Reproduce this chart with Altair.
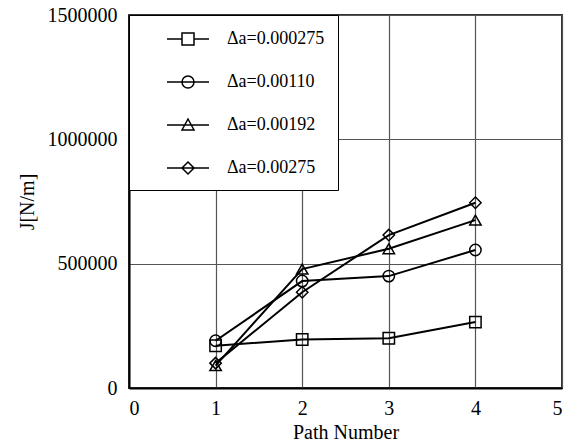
import altair as alt
import pandas as pd

paths = [1, 2, 3, 4]
series = ["Δa=0.000275", "Δa=0.00110", "Δa=0.00192", "Δa=0.00275"]
j_000275 = [170000, 195000, 200000, 265000]
j_00110 = [190000, 430000, 450000, 555000]
j_00192 = [90000, 478000, 560000, 675000]
j_00275 = [100000, 385000, 615000, 745000]

x_ticks = [0, 1, 2, 3, 4, 5]
y_ticks = [0, 500000, 1000000, 1500000]

rows = []
for name, vals in zip(series, [j_000275, j_00110, j_00192, j_00275]):
    for p, v in zip(paths, vals):
        rows.append({"path": p, "J": v, "series": name})
df = pd.DataFrame(rows)

FONT = "Liberation Serif"

# legend symbols: horizontal line with marker (units scaled by sqrt(size)/2 = 10px)
legend_paths = [
    "M-2.1,0H-0.6M0.6,0H2.1M-0.6,-0.6H0.6V0.6H-0.6Z",
    "M-2.1,0H2.1M0.6,0A0.6,0.6 0 1,1 -0.6,0A0.6,0.6 0 1,1 0.6,0",
    "M-2.1,0H2.1M0,-0.6L0.6,0.5L-0.6,0.5Z",
    "M-2.1,0H2.1M0,-0.6L0.6,0L0,0.6L-0.6,0Z",
]

x_enc = alt.X("path:Q", scale=alt.Scale(domain=[0, 5], nice=False),
              axis=alt.Axis(values=x_ticks, title="Path Number", format="d"))
y_enc = alt.Y("J:Q", scale=alt.Scale(domain=[0, 1500000], nice=False),
              axis=alt.Axis(values=y_ticks, title="J[N/m]", format="d"))

base = alt.Chart(df)

lines = base.mark_line(color="black", strokeWidth=2).encode(
    x=x_enc, y=y_enc, detail="series:N"
)

points = base.mark_point(filled=False, color="black", size=130, strokeWidth=1.5, opacity=1).encode(
    x=x_enc, y=y_enc,
    shape=alt.Shape("series:N",
                    scale=alt.Scale(domain=series, range=["square", "circle", "triangle-up", "diamond"]),
                    legend=None),
)

ghost = base.mark_point(filled=False, opacity=0, size=10).encode(
    x=x_enc, y=y_enc,
    shape=alt.Shape(
        "series:N",
        scale=alt.Scale(domain=series, range=legend_paths),
        legend=alt.Legend(
            title=None,
            orient="none",
            legendX=0,
            legendY=0,
            padding=13,
            strokeColor="black",
            fillColor="white",
            symbolSize=400,
            symbolOffset=35,
            symbolStrokeColor="black",
            symbolFillColor="transparent",
            symbolStrokeWidth=1.5,
            symbolOpacity=1,
            labelFont=FONT,
            labelFontSize=18,
            labelColor="black",
            labelOffset=28,
            rowPadding=23,
            labelLimit=300,
        ),
    ),
)

chart = (
    alt.layer(lines, points, ghost)
    .resolve_scale(shape="independent")
    .properties(
        width=433,
        height=373,
        autosize=alt.AutoSizeParams(type="none"),
        padding={"left": 129, "top": 15, "right": 14, "bottom": 58},
        background="white",
    )
    .configure_view(stroke="#333333", strokeWidth=2)
    .configure_axis(
        grid=True,
        gridColor="#555555",
        gridWidth=1.2,
        gridOpacity=1,
        domainColor="black",
        domainWidth=2,
        ticks=False,
        labelFont=FONT,
        labelFontSize=20,
        labelColor="black",
        titleFont=FONT,
        titleFontSize=20,
        titleFontWeight="normal",
        titleColor="black",
    )
    .configure_axisX(labelPadding=10, titlePadding=4)
    .configure_axisY(labelPadding=12, titlePadding=10)
)

chart.save("out.html", embed_options={"renderer": "svg", "actions": False})
